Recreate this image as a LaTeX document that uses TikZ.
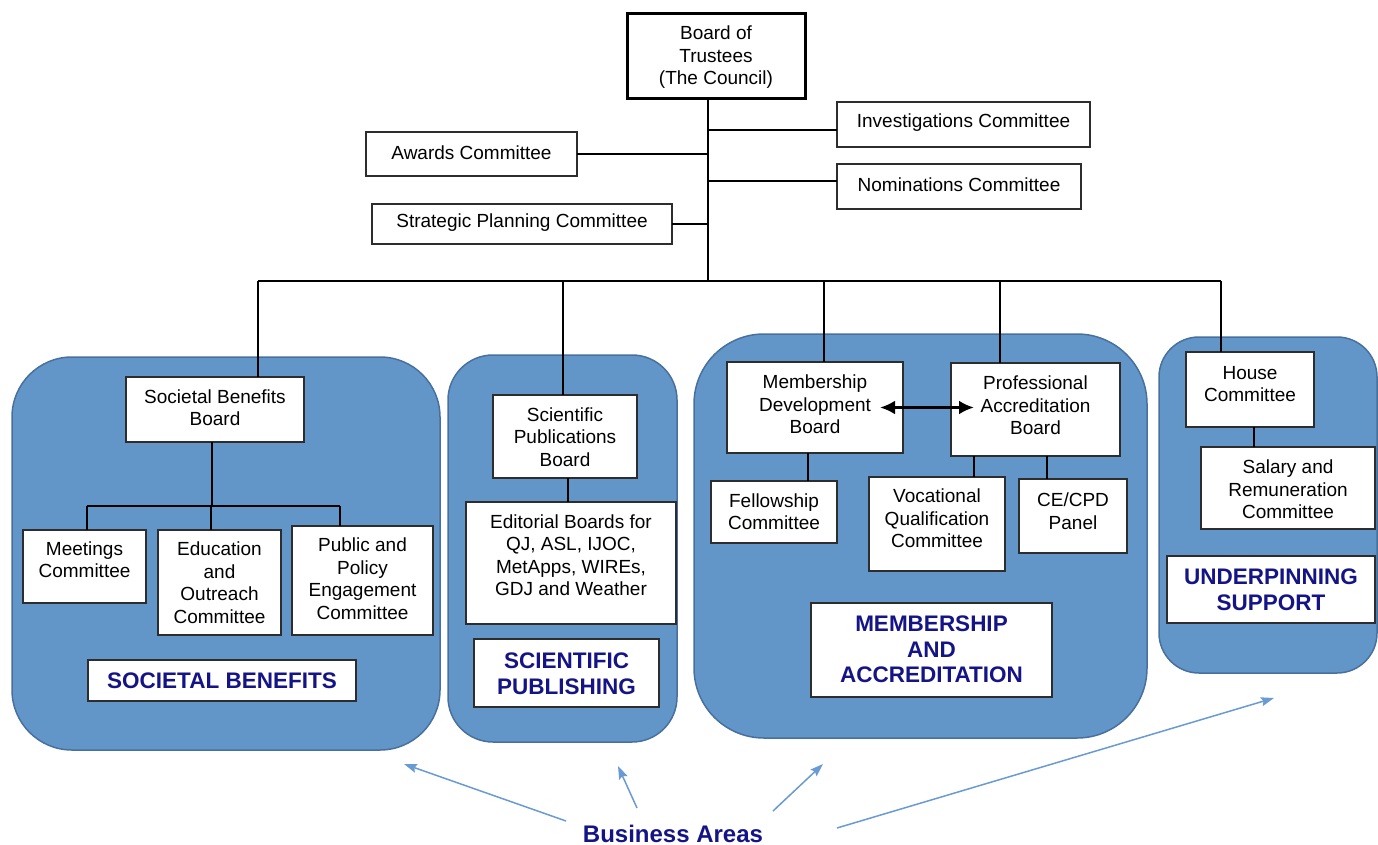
\documentclass[tikz,border=0pt]{standalone}
\usepackage{fontspec}
\setmainfont{Liberation Sans}
\usetikzlibrary{arrows.meta}
\definecolor{regfill}{RGB}{99,150,200}
\definecolor{regdraw}{RGB}{72,112,158}
\definecolor{navy}{RGB}{20,20,135}
\definecolor{arrowblue}{RGB}{105,155,210}
\definecolor{boxline}{RGB}{45,45,45}
% #1 text style, #2 name, #3 x1, #4 y1, #5 x2, #6 y2, #7 text centre y, #8 text
\newcommand\bx[8][txt]{%
  \node[box,minimum width={#5-#3},minimum height={#6-#4}] (#2) at ({(#3+#5)/2},{(#4+#6)/2}) {};
  \node[#1] (#2-t) at ({(#3+#5)/2},#7) {#8};}
% #1 radius, #2 name, #3 x1, #4 y1, #5 x2, #6 y2
\newcommand\regn[6]{%
  \node[region,rounded corners=#1,minimum width={#5-#3},minimum height={#6-#4}] (#2) at ({(#3+#5)/2},{(#4+#6)/2}) {};}
\begin{document}
\begin{tikzpicture}[x=1pt,y=-1pt,
  region/.style={fill=regfill,draw=regdraw,line width=1.5pt,inner sep=0pt,outer sep=0pt},
  box/.style={draw=boxline,fill=white,line width=1.3pt,inner sep=0pt,outer sep=0pt},
  txt/.style={align=center,inner sep=0pt,font=\fontsize{19}{22.5}\selectfont},
  lbl/.style={align=center,inner sep=0pt,text=navy,font=\fontsize{22.5}{25.5}\selectfont\bfseries},
  conn/.style={draw=black,line width=1.2pt},
  dblarrow/.style={draw=black,line width=3.5pt,{Latex[length=15pt,width=14pt]}-{Latex[length=15pt,width=14pt]}},
  baarrow/.style={draw=arrowblue,line width=1.5pt,-{Stealth[length=13pt,width=9pt,inset=2pt]}}]
\useasboundingbox (0,0) rectangle (1378,845);

% regions
\regn{60pt}{r1}{12}{357}{440}{750}
\regn{45pt}{r2}{448}{355}{677}{742}
\regn{70pt}{r3}{694}{334}{1147}{738}
\regn{40pt}{r4}{1159}{337}{1377}{673}

% top
\node[box,line width=3pt,draw=black,minimum width=178,minimum height=85] (bot) at (716,56.5) {};
\node[txt] (bot-t) at (716,57.5) {Board of\\Trustees\\(The Council)};
\bx{inv}{837}{102}{1090}{147}{123}{Investigations Committee}
\bx{awd}{366}{132}{577}{176}{153}{Awards Committee}
\bx{nom}{837}{164}{1081}{209}{185}{Nominations Committee}
\bx{stp}{372}{204}{672}{244}{223}{Strategic Planning Committee}

% societal benefits
\bx{sbb}{126}{377}{304}{442}{407.5}{Societal Benefits\\Board}
\bx{meet}{23}{530}{146}{603}{559.5}{Meetings\\Committee}
\bx{edu}{158}{530}{281}{635}{582.5}{Education\\and\\Outreach\\Committee}
\bx{pub}{292}{526}{433}{635}{578.5}{Public and\\Policy\\Engagement\\Committee}
\bx[lbl]{lsb}{88}{660}{356}{701}{681}{SOCIETAL BENEFITS}

% scientific publishing
\bx{spb}{493}{395}{637}{478}{437}{Scientific\\Publications\\Board}
\bx{edit}{466}{502}{676}{624}{555}{Editorial Boards for\\QJ, ASL, IJOC,\\MetApps, WIREs,\\GDJ and Weather}
\bx[lbl]{lsp}{474}{639}{659}{707}{673.5}{SCIENTIFIC\\PUBLISHING}

% membership and accreditation
\bx{mdb}{727}{362}{903}{453}{404.5}{Membership\\Development\\Board}
\bx{pab}{951}{363}{1120}{456}{405.5}{Professional\\Accreditation\\Board}
\bx{fel}{711}{481}{837}{543}{511.5}{Fellowship\\Committee}
\bx{voc}{869}{477}{1005}{571}{518.5}{Vocational\\Qualification\\Committee}
\bx{cpd}{1019}{479}{1127}{553}{511}{CE/CPD\\Panel}
\bx[lbl]{lma}{811}{603}{1052}{697}{649.5}{MEMBERSHIP\\AND\\ACCREDITATION}

% underpinning support
\bx{hou}{1186}{352}{1314}{427}{384}{House\\Committee}
\bx{sal}{1201}{447}{1375}{529}{489.5}{Salary and\\Remuneration\\Committee}
\bx[lbl]{lus}{1167}{556}{1375}{623}{589.5}{UNDERPINNING\\SUPPORT}

% connectors: top
\coordinate (tb) at (708,281);
\coordinate (ci) at (708,130);
\coordinate (cn) at (708,181);
\draw[conn] (tb |- bot.south) -- (tb);
\draw[conn] (ci) -- (ci -| inv.west);
\draw[conn] (cn) -- (cn -| nom.west);
\draw[conn] (awd.east) -- (awd.east -| tb);
\draw[conn] (stp.east) -- (stp.east -| tb);
% bus
\coordinate (j1) at (258,281);
\coordinate (j2) at (563,281);
\coordinate (j3) at (824,281);
\coordinate (j4) at (1000,281);
\coordinate (j5) at (1221,281);
\draw[conn] (j1) -- (j5);
\draw[conn] (j1) -- (j1 |- sbb.north);
\draw[conn] (j2) -- (j2 |- spb.north);
\draw[conn] (j3) -- (j3 |- mdb.north);
\draw[conn] (j4) -- (j4 |- pab.north);
\draw[conn] (j5) -- (j5 |- hou.north);
% societal benefits tree
\coordinate (s0) at (212,506);
\coordinate (s1) at (87,506);
\coordinate (s2) at (211,506);
\coordinate (s3) at (340,506);
\draw[conn] (s0 |- sbb.south) -- (s0);
\draw[conn] (s1) -- (s3);
\draw[conn] (s1) -- (s1 |- meet.north);
\draw[conn] (s2) -- (s2 |- edu.north);
\draw[conn] (s3) -- (s3 |- pub.north);
% others
\coordinate (e0) at (568,490);
\draw[conn] (e0 |- spb.south) -- (e0 |- edit.north);
\coordinate (f0) at (808,470);
\draw[conn] (f0 |- mdb.south) -- (f0 |- fel.north);
\coordinate (v0) at (974,470);
\draw[conn] (v0 |- pab.south) -- (v0 |- voc.north);
\coordinate (c0) at (1047,470);
\draw[conn] (c0 |- pab.south) -- (c0 |- cpd.north);
\coordinate (h0) at (1254,437);
\draw[conn] (h0 |- hou.south) -- (h0 |- sal.north);
% double arrow
\draw[dblarrow] ([xshift=-23pt]mdb.east) -- ([xshift=23pt]pab.west |- mdb.east);

% business areas
\node[inner sep=0pt,text=navy,font=\fontsize{24}{28}\selectfont\bfseries] (ba) at (673,834) {Business Areas};
\coordinate (a1t) at (566,821);
\coordinate (a1h) at (404,764);
\coordinate (a2t) at (637,808);
\coordinate (a2h) at (618,766);
\coordinate (a3t) at (773,811);
\coordinate (a3h) at (823,764);
\coordinate (a4t) at (837,828);
\coordinate (a4h) at (1274,698);
\draw[baarrow] (a1t) -- (a1h);
\draw[baarrow] (a2t) -- (a2h);
\draw[baarrow] (a3t) -- (a3h);
\draw[baarrow] (a4t) -- (a4h);
\end{tikzpicture}
\end{document}
